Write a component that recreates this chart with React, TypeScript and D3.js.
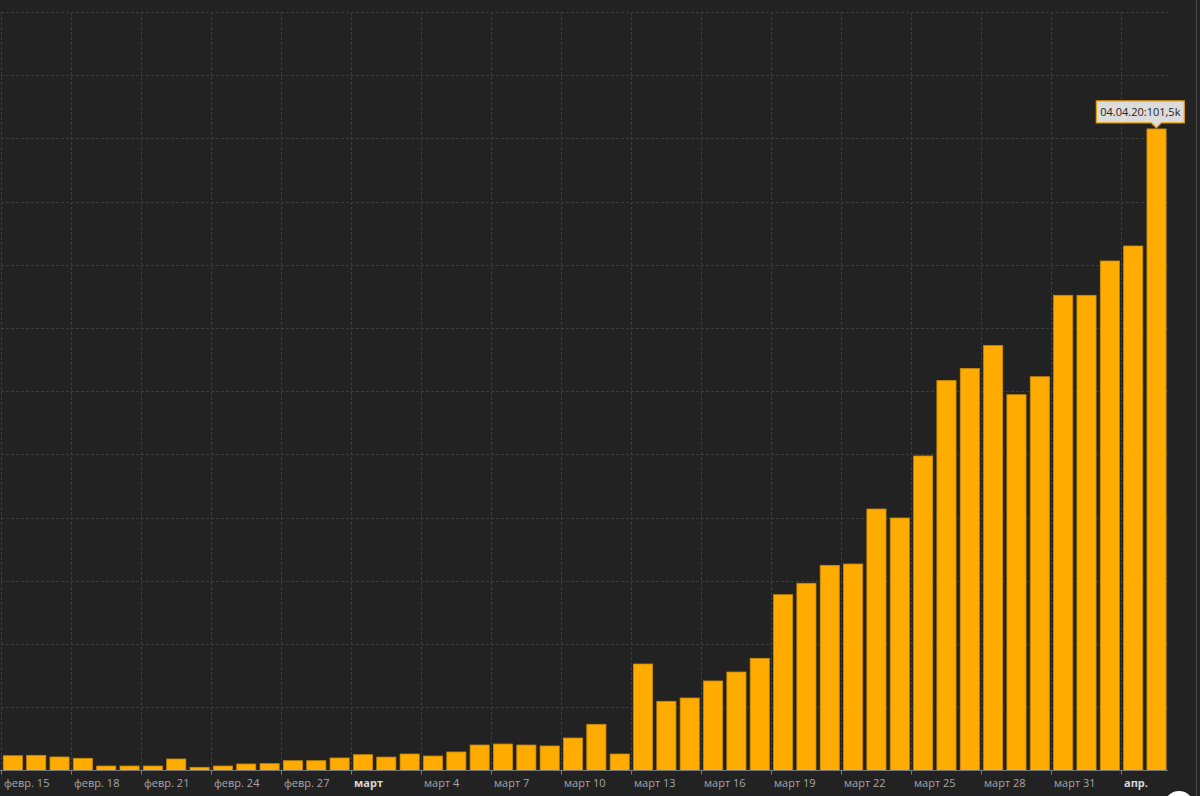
import React from "react";
import * as d3 from "d3";

const dates: string[] = [
  "2020-02-15","2020-02-16","2020-02-17","2020-02-18","2020-02-19","2020-02-20","2020-02-21","2020-02-22","2020-02-23","2020-02-24",
  "2020-02-25","2020-02-26","2020-02-27","2020-02-28","2020-02-29","2020-03-01","2020-03-02","2020-03-03","2020-03-04","2020-03-05",
  "2020-03-06","2020-03-07","2020-03-08","2020-03-09","2020-03-10","2020-03-11","2020-03-12","2020-03-13","2020-03-14","2020-03-15",
  "2020-03-16","2020-03-17","2020-03-18","2020-03-19","2020-03-20","2020-03-21","2020-03-22","2020-03-23","2020-03-24","2020-03-25",
  "2020-03-26","2020-03-27","2020-03-28","2020-03-29","2020-03-30","2020-03-31","2020-04-01","2020-04-02","2020-04-03","2020-04-04",
];

// values in thousands
const values: number[] = [
  2.34, 2.4, 2.14, 1.93, 0.71, 0.71, 0.71, 1.82, 0.51, 0.71,
  1.03, 1.08, 1.55, 1.55, 1.98, 2.5, 2.12, 2.61, 2.29, 2.93,
  4.03, 4.19, 4.03, 3.88, 5.14, 7.31, 2.61, 16.85, 10.95, 11.47,
  14.16, 15.58, 17.75, 27.81, 29.62, 32.46, 32.67, 41.37, 39.95, 49.76,
  61.7, 63.6, 67.24, 59.45, 62.3, 75.18, 75.18, 80.61, 82.98, 101.5,
];

const tickLabels: string[] = [
  "февр. 15","февр. 18","февр. 21","февр. 24","февр. 27","март","март 4","март 7","март 10",
  "март 13","март 16","март 19","март 22","март 25","март 28","март 31","апр.",
];
const boldTicks: string[] = ["март", "апр."];

const yTicks: number[] = [0, 10, 20, 30, 40, 50, 60, 70, 80, 90, 100, 110, 120];

const tooltipLabel = "04.04.20:101,5k";

const parse = d3.timeParse("%Y-%m-%d");

export default function App() {
  const W = 1200, H = 796;
  const left = 1, right = 1168, top = 12, bottom = 770.5;
  const start = parse(dates[0]) as Date;
  const end = d3.timeDay.offset(parse(dates[dates.length - 1]) as Date, 1);
  const x = d3.scaleTime().domain([start, end]).range([left, right]);
  const y = d3.scaleLinear().domain([0, 120]).range([bottom, top]);
  const dayW = (right - left) / dates.length;
  const tickDates = d3.timeDay.range(start, end, 3);

  const lastDate = parse(dates[dates.length - 1]) as Date;
  const lastVal = values[values.length - 1];
  const tipX = x(lastDate) + dayW / 2;
  const tipY = y(lastVal);
  const boxW = 88, boxH = 22;
  const boxX = tipX - boxW / 2 - 16;
  const boxY = tipY - 6 - boxH;

  return (
    <svg width={W} height={H} style={{ position: "fixed", left: 0, top: 0, display: "block" }}>
      <rect x={0} y={0} width={W} height={H} fill="#222222" />
      {/* horizontal grid */}
      {yTicks.slice(1).map((t) => (
        <line key={"h" + t} x1={left} x2={right} y1={Math.round(y(t)) + 0.5} y2={Math.round(y(t)) + 0.5}
          stroke="#3c3c3c" strokeWidth={1} strokeDasharray="3,2" />
      ))}
      {/* vertical grid */}
      {tickDates.map((d, i) => (
        <line key={"v" + i} x1={Math.round(x(d)) + 0.5} x2={Math.round(x(d)) + 0.5} y1={top} y2={bottom}
          stroke="#3c3c3c" strokeWidth={1} strokeDasharray="3,2" />
      ))}
      {/* bars */}
      {dates.map((ds, i) => {
        const d = parse(ds) as Date;
        const x0 = x(d) + 2.3;
        const yv = y(values[i]);
        return (
          <rect key={ds} x={x0} y={yv} width={dayW - 4.2} height={bottom - yv}
            fill="#ffab00" stroke="#c98a06" strokeWidth={0.8} />
        );
      })}
      {/* axis */}
      <line x1={0} x2={right} y1={bottom} y2={bottom} stroke="#7a7a7a" strokeWidth={1} />
      {tickDates.map((d, i) => (
        <g key={"t" + i} transform={`translate(${Math.round(x(d)) + 0.5},0)`}>
          <line y1={bottom} y2={bottom + 4} stroke="#7a7a7a" />
          <text x={2.5} y={787} fontSize={11} fill={boldTicks.includes(tickLabels[i]) ? "#d8d8d8" : "#a6a6a6"}
            fontWeight={boldTicks.includes(tickLabels[i]) ? 700 : 400}
            fontFamily="'Open Sans', 'Noto Sans', sans-serif">
            {tickLabels[i]}
          </text>
        </g>
      ))}
      {/* right edge line */}
      <line x1={1196.5} x2={1196.5} y1={0} y2={H} stroke="#4a4a4a" strokeWidth={1} />
      <circle cx={1179} cy={806} r={15} fill="#ffffff" />
      {/* tooltip */}
      <g>
        <path
          d={`M${boxX},${boxY} H${boxX + boxW} V${boxY + boxH} H${tipX + 5} L${tipX},${tipY - 1} L${tipX - 5},${boxY + boxH} H${boxX} Z`}
          fill="#dcdcdc" stroke="#e59a00" strokeWidth={1.2} />
        <text x={boxX + boxW / 2} y={boxY + 15} textAnchor="middle" fontSize={11} fill="#222"
          fontFamily="'Open Sans', 'Noto Sans', sans-serif">{tooltipLabel}</text>
      </g>
    </svg>
  );
}
